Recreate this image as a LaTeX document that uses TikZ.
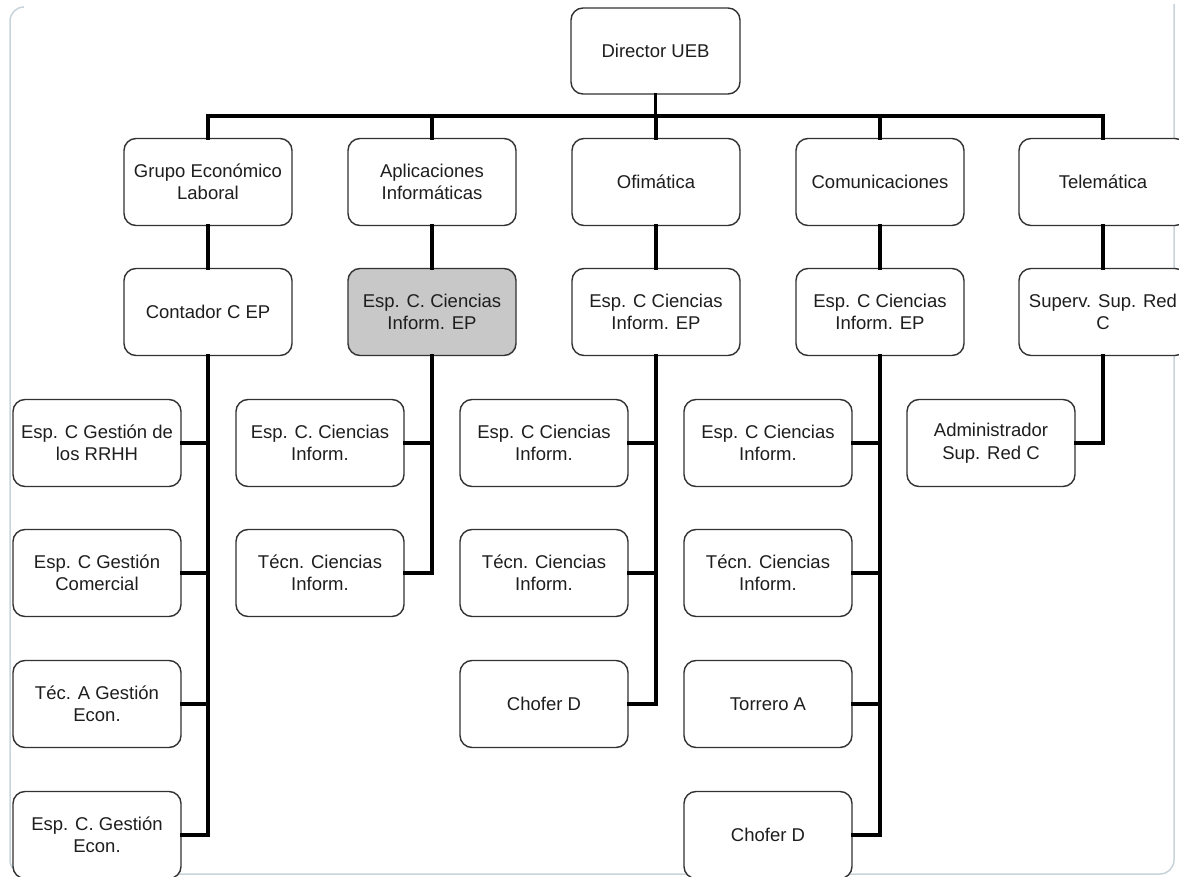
\documentclass[tikz,border=0pt]{standalone}
\usepackage{fontspec}
\setmainfont{Liberation Sans}
\definecolor{framec}{RGB}{200,212,218}
\definecolor{boxline}{RGB}{50,50,50}
\definecolor{boxgray}{RGB}{200,200,200}
\definecolor{txt}{RGB}{30,30,30}
\begin{document}
\begin{tikzpicture}[x=1pt,y=-1pt,
  box/.style={draw=boxline, line width=1.4pt, fill=white, rounded corners=12pt,
    minimum width=168pt, minimum height=87pt, inner sep=0pt, align=center,
    text=txt, font=\fontsize{18.5}{22.5}\selectfont},
  conn/.style={line width=3.5pt, black, line cap=rect}]
\clip (0,0) rectangle (1179,877);
\fill[white] (0,0) rectangle (1179,877);
\draw[framec, line width=1.5pt, rounded corners=14pt] (1174,4) -- (1174,874) -- (10,874) -- (10,7) -- (24,7);

% level 0 / 1 / 2
\node[box, minimum width=169pt, minimum height=86pt] (dir) at (655.5,51) {Director UEB};
\node[box] (g1) at (208,182) {Grupo Económico\\Laboral};
\node[box] (g2) at (432,182) {Aplicaciones\\Informáticas};
\node[box] (g3) at (656,182) {Ofimática};
\node[box] (g4) at (880,182) {Comunicaciones};
\node[box] (g5) at (1103,182) {Telemática};

\node[box] (s1) at (208,312) {Contador C EP};
\node[box, fill=boxgray] (s2) at (432,312) {Esp. C. Ciencias\\Inform. EP};
\node[box] (s3) at (656,312) {Esp. C Ciencias\\Inform. EP};
\node[box] (s4) at (880,312) {Esp. C Ciencias\\Inform. EP};
\node[box] (s5) at (1103,312) {Superv. Sup. Red\\C};

% children
\node[box] (c11) at (97,443) {Esp. C Gestión de\\los RRHH};
\node[box] (c12) at (97,573) {Esp. C Gestión\\Comercial};
\node[box] (c13) at (97,704) {Téc. A Gestión\\Econ.};
\node[box] (c14) at (97,835) {Esp. C. Gestión\\Econ.};

\node[box] (c21) at (320,443) {Esp. C. Ciencias\\Inform.};
\node[box] (c22) at (320,573) {Técn. Ciencias\\Inform.};

\node[box] (c31) at (544,443) {Esp. C Ciencias\\Inform.};
\node[box] (c32) at (544,573) {Técn. Ciencias\\Inform.};
\node[box] (c33) at (544,704) {Chofer D};

\node[box] (c41) at (768,443) {Esp. C Ciencias\\Inform.};
\node[box] (c42) at (768,573) {Técn. Ciencias\\Inform.};
\node[box] (c43) at (768,704) {Torrero A};
\node[box] (c44) at (768,835) {Chofer D};

\node[box] (c51) at (991,443) {Administrador\\Sup. Red C};

% bus
\coordinate (bus) at (0,116);
\draw[conn] (dir.south) -- (dir.south |- bus);
\draw[conn] (g1.north) -- (g1.north |- bus) -- (g5.north |- bus) -- (g5.north);
\draw[conn] (g2.north) -- (g2.north |- bus);
\draw[conn] (g3.north) -- (g3.north |- bus);
\draw[conn] (g4.north) -- (g4.north |- bus);

% level 1 to 2
\draw[conn] (g1.south) -- (s1.north);
\draw[conn] (g2.south) -- (s2.north);
\draw[conn] (g3.south) -- (s3.north);
\draw[conn] (g4.south) -- (s4.north);
\draw[conn] (g5.south) -- (s5.north);

% level 2 to children
\draw[conn] (s1.south) -- (s1.south |- c14.east) -- (c14.east);
\draw[conn] (c11.east) -- (c11.east -| s1.south);
\draw[conn] (c12.east) -- (c12.east -| s1.south);
\draw[conn] (c13.east) -- (c13.east -| s1.south);

\draw[conn] (s2.south) -- (s2.south |- c22.east) -- (c22.east);
\draw[conn] (c21.east) -- (c21.east -| s2.south);

\draw[conn] (s3.south) -- (s3.south |- c33.east) -- (c33.east);
\draw[conn] (c31.east) -- (c31.east -| s3.south);
\draw[conn] (c32.east) -- (c32.east -| s3.south);

\draw[conn] (s4.south) -- (s4.south |- c44.east) -- (c44.east);
\draw[conn] (c41.east) -- (c41.east -| s4.south);
\draw[conn] (c42.east) -- (c42.east -| s4.south);
\draw[conn] (c43.east) -- (c43.east -| s4.south);

\draw[conn] (s5.south) -- (s5.south |- c51.east) -- (c51.east);
\end{tikzpicture}
\end{document}
